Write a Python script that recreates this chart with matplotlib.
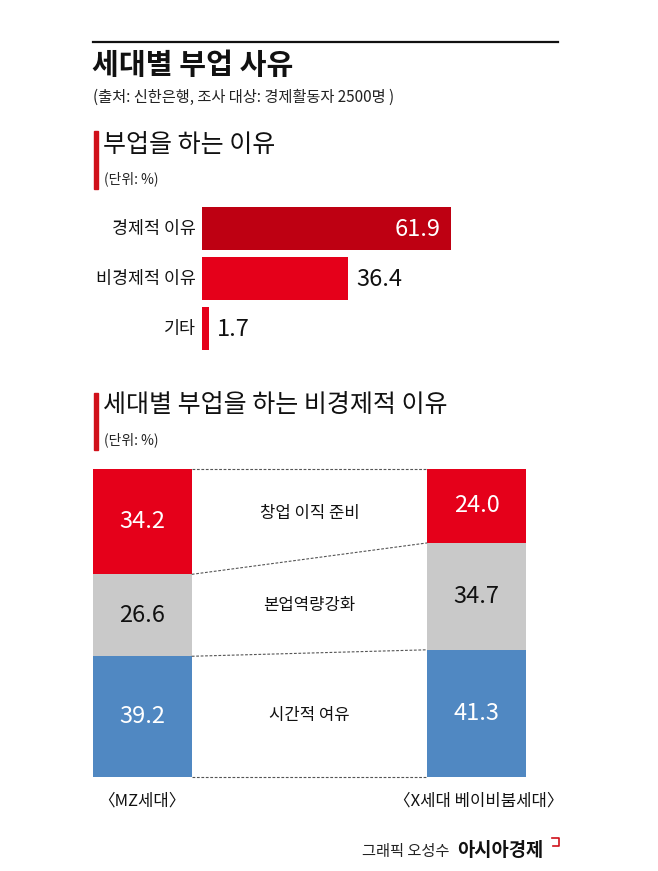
import matplotlib
matplotlib.use("Agg")
import matplotlib.pyplot as plt
from matplotlib.lines import Line2D
from matplotlib.patches import Rectangle

plt.rcParams['font.family'] = ['Noto Sans CJK KR', 'DejaVu Sans']

W, H = 658, 871

# 데이터
reasons = ['경제적 이유', '비경제적 이유', '기타']
reason_vals = [61.9, 36.4, 1.7]

generations = ['〈MZ세대〉', '〈X세대 베이비붐세대〉']
sub_reasons = ['창업 이직 준비', '본업역량강화', '시간적 여유']
mz_vals = [34.2, 26.6, 39.2]
x_vals = [24.0, 34.7, 41.3]

RED_DARK = '#BE0012'
RED = '#E5001A'
GRAY = '#C9C9C9'
BLUE = '#5088C2'


def fx(px):
    return px / W


def fy(py):
    return 1 - py / H


fig = plt.figure(figsize=(W / 100, H / 100), dpi=100)
fig.patch.set_facecolor('white')

# 상단 선과 제목
fig.add_artist(Line2D([fx(93), fx(558)], [fy(42), fy(42)], color='#111111', lw=1.6))
fig.text(fx(92), fy(65), '세대별 부업 사유', fontsize=21, fontweight='bold', va='center', color='#111111')
fig.text(fx(93), fy(97), '(출처: 신한은행, 조사 대상: 경제활동자 2500명 )', fontsize=11,
         va='center', color='#222222')

# 섹션 1
fig.add_artist(Rectangle((fx(94), fy(189)), fx(4), 58 / H, color='#D0101A'))
fig.text(fx(103), fy(145), '부업을 하는 이유', fontsize=18, va='center', color='#111111')
fig.text(fx(104), fy(179), '(단위: %)', fontsize=10, va='center', color='#222222')

ax1 = fig.add_axes([fx(202), fy(354), (560 - 202) / W, 150 / H])
scale = 249 / 61.9
ax1.set_xlim(0, (560 - 202) / scale)
ax1.set_ylim(2.5, -0.5)
colors1 = [RED_DARK, RED, RED]
ax1.barh(range(len(reasons)), reason_vals, height=0.86, color=colors1)
for i, (lab, v) in enumerate(zip(reasons, reason_vals)):
    ax1.text(-1.6, i, lab, ha='right', va='center', fontsize=12.5, fontweight='medium',
             color='#111111')
    if i == 0:
        ax1.text(v - 2.5, i, f'{v:.1f}', ha='right', va='center', fontsize=17, color='white')
    else:
        ax1.text(v + 2.0, i, f'{v:.1f}', ha='left', va='center', fontsize=17, color='#111111')
ax1.axis('off')

# 섹션 2
fig.add_artist(Rectangle((fx(94), fy(450)), fx(4), 57 / H, color='#D0101A'))
fig.text(fx(103), fy(405), '세대별 부업을 하는 비경제적 이유', fontsize=18, va='center', color='#111111')
fig.text(fx(104), fy(440), '(단위: %)', fontsize=10, va='center', color='#222222')

ax2 = fig.add_axes([fx(93), fy(777), (526 - 93) / W, (777 - 469) / H])
bw = 99 / 335
ax2.set_xlim(-bw / 2, 1 + bw / 2)
ax2.set_ylim(100, 0)
seg_colors = [RED, GRAY, BLUE]
txt_colors = ['white', '#111111', 'white']
for xpos, vals in [(0, mz_vals), (1, x_vals)]:
    bottom = 0
    for v, c, tc in zip(vals, seg_colors, txt_colors):
        ax2.bar(xpos, v, bottom=bottom, width=bw, color=c)
        ax2.text(xpos, bottom + v / 2, f'{v:.1f}', ha='center', va='center', fontsize=17, color=tc)
        bottom += v

# 점선 연결
cum_l, cum_r = [0], [0]
for a, b in zip(mz_vals, x_vals):
    cum_l.append(cum_l[-1] + a)
    cum_r.append(cum_r[-1] + b)
for yl, yr in zip(cum_l, cum_r):
    ax2.plot([bw / 2, 1 - bw / 2], [yl, yr], color='#555555', lw=0.8, ls=(0, (2.5, 1.5)),
             clip_on=False)

for i, lab in enumerate(sub_reasons):
    ml = cum_l[i] + mz_vals[i] / 2
    mr = cum_r[i] + x_vals[i] / 2
    ax2.text(0.5, (ml + mr) / 2, lab, ha='center', va='center', fontsize=12, fontweight='medium',
             color='#111111')
ax2.axis('off')

fig.text(fx(142), fy(801), generations[0], ha='center', va='center', fontsize=12, color='#111111')
fig.text(fx(479), fy(801), generations[1], ha='center', va='center', fontsize=12, color='#111111')

# 하단 크레딧
fig.text(fx(362), fy(851), '그래픽 오성수', ha='left', va='center', fontsize=11, color='#222222')
fig.text(fx(457), fy(850), '아시아경제', ha='left', va='center', fontsize=13.5, fontweight='bold', color='#111111')
fig.add_artist(Line2D([fx(552), fx(559), fx(559), fx(553)], [fy(838), fy(838), fy(846), fy(846)],
                      color='#D0101A', lw=1.2))

fig.savefig('out.png', dpi=100, facecolor='white')
